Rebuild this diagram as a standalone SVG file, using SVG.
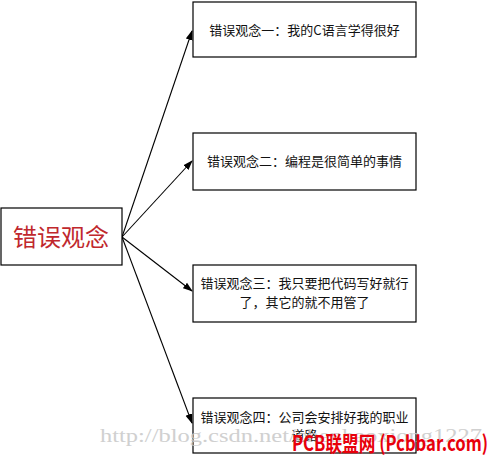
<svg xmlns="http://www.w3.org/2000/svg" width="494" height="455" viewBox="0 0 494 455">
<defs>
<marker id="ah" markerWidth="10" markerHeight="8" refX="9" refY="4" orient="auto" markerUnits="userSpaceOnUse">
<path d="M0,0.5 L10,4 L0,7.5 Z" fill="#000"/>
</marker>
<style>
.box{fill:#fff;stroke:#000;stroke-width:1.2}
.t{font-family:"Noto Sans CJK SC","Liberation Sans",sans-serif;font-size:13px;fill:#111;text-anchor:middle}
.c{stroke:#000;stroke-width:1.1;fill:none;marker-end:url(#ah)}
</style>
</defs>
<rect width="494" height="455" fill="#fff"/>
<g id="connectors">
<line class="c" x1="122" y1="237" x2="192" y2="31"/>
<line class="c" x1="122" y1="237" x2="192" y2="161"/>
<line class="c" x1="122" y1="237" x2="192" y2="291"/>
<line class="c" x1="122" y1="237" x2="192" y2="423"/>
</g>
<g id="root">
<rect class="box" x="1" y="208" width="121" height="57"/>
<text x="61" y="246" style="font-family:'Noto Sans CJK SC',sans-serif;font-size:24px;fill:#c0282d;text-anchor:middle">错误观念</text>
</g>
<g id="n1">
<rect class="box" x="193" y="2" width="223" height="55"/>
<text class="t" x="304.5" y="35">错误观念一：我的C语言学得很好</text>
</g>
<g id="n2">
<rect class="box" x="193" y="133" width="223" height="57"/>
<text class="t" x="304.5" y="166">错误观念二：编程是很简单的事情</text>
</g>
<g id="n3">
<rect class="box" x="193" y="265" width="223" height="57"/>
<text class="t" x="304.5" y="288">错误观念三：我只要把代码写好就行</text>
<text class="t" x="304.5" y="307">了，其它的就不用管了</text>
</g>
<g id="n4">
<rect class="box" x="193" y="398" width="223" height="55"/>
<text class="t" x="304.5" y="422">错误观念四：公司会安排好我的职业</text>
<text class="t" x="304.5" y="440">道路</text>
</g>
<g id="watermark">
<text x="100" y="442" textLength="382" lengthAdjust="spacingAndGlyphs" style="font-family:'Liberation Serif',serif;font-size:19px;fill:#c8c8c8;opacity:0.85">http://blog.csdn.net/chenhaoxiong1227</text>
<text x="292" y="451" textLength="196" lengthAdjust="spacingAndGlyphs" style="font-family:'Noto Sans CJK SC',sans-serif;font-size:21px;font-weight:bold;fill:#e8000b">PCB联盟网 (Pcbbar.com)</text>
</g>
</svg>
